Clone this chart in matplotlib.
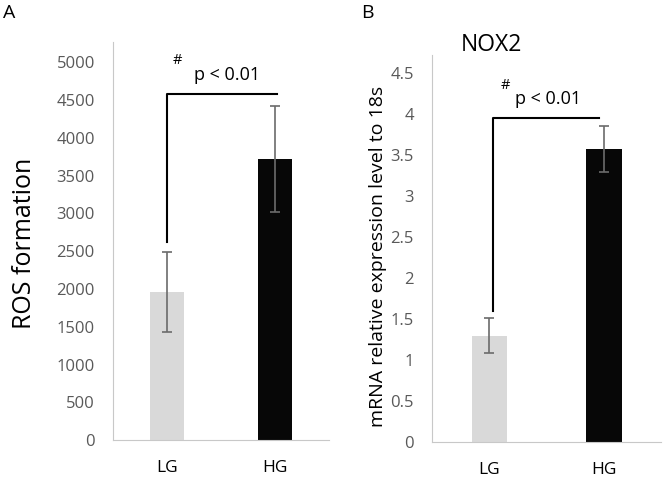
import numpy as np
import matplotlib.pyplot as plt

plt.rcParams['font.family'] = ['Open Sans', 'DejaVu Sans']

groups = ['LG', 'HG']
ros_mean = [1960, 3715]
ros_err = [530, 700]
nox2_mean = [1.30, 3.58]
nox2_err = [0.21, 0.28]
bar_colors = ['#d9d9d9', '#070707']

axis_grey = '#c8c8c8'
tick_grey = '#595959'


def style_axis(ax):
    ax.spines['top'].set_visible(False)
    ax.spines['right'].set_visible(False)
    ax.spines['left'].set_color(axis_grey)
    ax.spines['bottom'].set_color(axis_grey)
    ax.tick_params(axis='y', length=0, pad=13, labelsize=12, labelcolor=tick_grey)
    ax.tick_params(axis='x', length=0, pad=14, labelsize=12.5, labelcolor='black')
    ax.set_xlim(-0.5, 1.5)


fig = plt.figure(figsize=(6.64, 4.8), dpi=100)

# panel A : ROS formation
axA = fig.add_axes([0.170, 0.083, 0.326, 0.829])
x = np.arange(len(groups))
axA.bar(x, ros_mean, width=0.31, color=bar_colors)
axA.errorbar(x, ros_mean, yerr=ros_err, fmt='none', ecolor='#6b6b6b',
             elinewidth=1.2, capsize=3.5, capthick=1.2)
style_axis(axA)
axA.set_ylim(0, 5265)
axA.set_yticks(np.arange(0, 5001, 500))
axA.set_xticks(x)
axA.set_xticklabels(groups)
axA.set_ylabel('ROS formation', fontsize=18, va='center')
axA.yaxis.set_label_coords(-0.407, 0.495)
axA.plot([0, 0, 1.02], [2620, 4585, 4585], color='black', lw=1.5, clip_on=False)
axA.text(0.10, 5030, '#', fontsize=10.5, ha='center', va='center')
axA.text(0.555, 4830, 'p < 0.01', fontsize=13, ha='center', va='center')
fig.text(0.014, 0.973, 'A', fontsize=14, ha='center', va='center')

# panel B : NOX2 mRNA
axB = fig.add_axes([0.6506, 0.079, 0.345, 0.806])
axB.bar(x, nox2_mean, width=0.31, color=bar_colors)
axB.errorbar(x, nox2_mean, yerr=nox2_err, fmt='none', ecolor='#6b6b6b',
             elinewidth=1.2, capsize=3.5, capthick=1.2)
style_axis(axB)
axB.set_ylim(0, 4.72)
axB.set_yticks(np.arange(0, 4.51, 0.5))
axB.set_yticklabels(['0', '0.5', '1', '1.5', '2', '2.5', '3', '3.5', '4', '4.5'])
axB.set_xticks(x)
axB.set_xticklabels(groups)
axB.set_ylabel('mRNA relative expression level to 18s', fontsize=14, va='center')
axB.yaxis.set_label_coords(-0.236, 0.48)
axB.plot([0.035, 0.035, 0.955], [1.6, 3.95, 3.95], color='black', lw=1.5, clip_on=False)
axB.text(0.14, 4.35, '#', fontsize=10.5, ha='center', va='center')
axB.text(0.51, 4.18, 'p < 0.01', fontsize=13, ha='center', va='center')
axB.text(0.02, 4.84, 'NOX2', fontsize=16.5, ha='center', va='center')
fig.text(0.553, 0.973, 'B', fontsize=14, ha='center', va='center')

fig.savefig('out.png', dpi=100)
